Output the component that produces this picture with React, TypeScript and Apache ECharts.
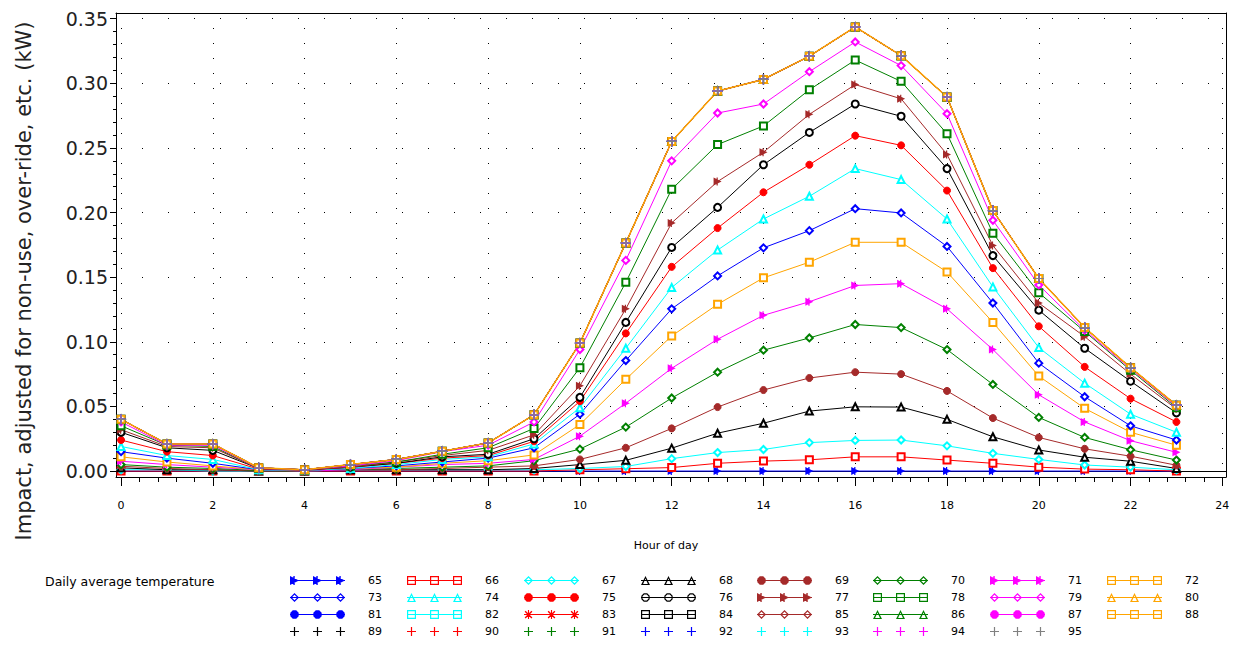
import React, { useEffect, useRef } from 'react';
import * as echarts from 'echarts';

// ---------------- data ----------------
const hours = [0, 1, 2, 3, 4, 5, 6, 7, 8, 9, 10, 11, 12, 13, 14, 15, 16, 17, 18, 19, 20, 21, 22, 23];

const t65 = [0, 0, 0, 0, 0, 0, 0, 0, 0, 0, 0, 0, 0, 0, 0, 0, 0, 0, 0, 0, 0, 0, 0, 0];
const t66 = [0, 0, 0, 0, 0, 0, 0, 0, 0, 0, 0.001, 0.0018, 0.0027, 0.006, 0.0077, 0.0087, 0.011, 0.011, 0.0085, 0.006, 0.003, 0.0015, 0.001, 0];
const t67 = [0.001, 0.001, 0, 0, 0, 0.001, 0.001, 0.001, 0.001, 0.001, 0.002, 0.0035, 0.0096, 0.0143, 0.0167, 0.022, 0.0237, 0.024, 0.0195, 0.0137, 0.009, 0.0047, 0.003, 0.001];
const t68 = [0.0025, 0.001, 0.001, 0, 0, 0.001, 0.001, 0.001, 0.001, 0.002, 0.005, 0.0083, 0.0177, 0.0293, 0.037, 0.0464, 0.0497, 0.0495, 0.04, 0.0265, 0.0163, 0.0107, 0.0076, 0.002];
const t69 = [0.0037, 0.002, 0.001, 0, 0, 0.001, 0.001, 0.002, 0.003, 0.004, 0.009, 0.018, 0.033, 0.0495, 0.0627, 0.072, 0.0765, 0.075, 0.062, 0.041, 0.026, 0.0172, 0.0115, 0.0045];
const t70 = [0.005, 0.003, 0.002, 0.0005, 0, 0.001, 0.002, 0.003, 0.004, 0.008, 0.017, 0.034, 0.0565, 0.0765, 0.0935, 0.103, 0.1134, 0.111, 0.094, 0.067, 0.0415, 0.026, 0.0165, 0.0085];
const t71 = [0.0076, 0.005, 0.003, 0.001, 0, 0.001, 0.003, 0.005, 0.006, 0.009, 0.027, 0.0525, 0.0795, 0.102, 0.1205, 0.131, 0.1436, 0.145, 0.1255, 0.094, 0.059, 0.038, 0.0235, 0.0145];
const t72 = [0.011, 0.007, 0.004, 0.001, 0.0005, 0.002, 0.003, 0.006, 0.008, 0.0125, 0.036, 0.071, 0.1045, 0.129, 0.1495, 0.1616, 0.177, 0.177, 0.154, 0.115, 0.0735, 0.0485, 0.03, 0.02];
const t73 = [0.015, 0.01, 0.006, 0.001, 0.0005, 0.002, 0.004, 0.007, 0.01, 0.018, 0.044, 0.0855, 0.1255, 0.151, 0.1727, 0.186, 0.203, 0.1997, 0.1738, 0.13, 0.0835, 0.0575, 0.035, 0.024];
const t74 = [0.019, 0.012, 0.009, 0.001, 0.0005, 0.002, 0.005, 0.009, 0.011, 0.021, 0.049, 0.095, 0.142, 0.171, 0.195, 0.2126, 0.234, 0.2255, 0.195, 0.1425, 0.0955, 0.068, 0.044, 0.03];
const t75 = [0.024, 0.015, 0.012, 0.0015, 0.0005, 0.003, 0.006, 0.01, 0.012, 0.023, 0.054, 0.1065, 0.158, 0.188, 0.2157, 0.237, 0.2595, 0.252, 0.217, 0.157, 0.112, 0.0806, 0.056, 0.038];
const t76 = [0.03, 0.018, 0.016, 0.002, 0.001, 0.003, 0.006, 0.011, 0.013, 0.025, 0.057, 0.115, 0.173, 0.204, 0.237, 0.262, 0.284, 0.2745, 0.234, 0.1667, 0.1245, 0.095, 0.0695, 0.045];
const t77 = [0.032, 0.019, 0.018, 0.002, 0.001, 0.003, 0.007, 0.012, 0.016, 0.028, 0.066, 0.1255, 0.192, 0.224, 0.2467, 0.276, 0.299, 0.288, 0.245, 0.1745, 0.13, 0.104, 0.075, 0.048];
const t78 = [0.035, 0.02, 0.019, 0.002, 0.001, 0.004, 0.007, 0.013, 0.018, 0.033, 0.08, 0.146, 0.218, 0.2526, 0.267, 0.295, 0.318, 0.3015, 0.261, 0.184, 0.138, 0.108, 0.078, 0.049];
const t79 = [0.038, 0.02, 0.02, 0.002, 0.001, 0.004, 0.008, 0.015, 0.02, 0.038, 0.094, 0.163, 0.24, 0.277, 0.284, 0.309, 0.332, 0.3137, 0.2765, 0.194, 0.144, 0.109, 0.079, 0.05];
const t80 = [0.04, 0.021, 0.021, 0.0025, 0.001, 0.005, 0.009, 0.0153, 0.0218, 0.0435, 0.099, 0.1765, 0.255, 0.294, 0.303, 0.321, 0.3436, 0.3214, 0.2894, 0.2015, 0.149, 0.111, 0.08, 0.051];
// temperatures 81..95 lie on the top curve (drawn over it)
const topCurveTemps = [81, 82, 83, 84, 85, 86, 87, 88, 89, 90, 91, 92, 93, 94, 95];

const temps = [65, 66, 67, 68, 69, 70, 71, 72, 73, 74, 75, 76, 77, 78, 79, 80, 81, 82, 83, 84, 85, 86, 87, 88, 89, 90, 91, 92, 93, 94, 95];

const xTickLabels = [0, 2, 4, 6, 8, 10, 12, 14, 16, 18, 20, 22, 24];
const yTickLabels = [0, 0.05, 0.1, 0.15, 0.2, 0.25, 0.3, 0.35];

const legendTitle = 'Daily average temperature';
const xName = 'Hour of day';
const yName = 'Impact, adjusted for non-use, over-ride, etc. (kW)';

// ---------------- styles ----------------
const BLUE = '#0000ff', RED = '#ff0000', CYAN = '#00ffff', BLACK = '#000000';
const BROWN = '#a52a2a', GREEN = '#008000', MAGENTA = '#ff00ff', ORANGE = '#ffa500', GRAY = '#808080';

const seriesStyles: Record<number, [string, string]> = {
  65: [BLUE, 'arrow'], 66: [RED, 'rectO'], 67: [CYAN, 'diamondO'], 68: [BLACK, 'triO'],
  69: [BROWN, 'circle'], 70: [GREEN, 'diamondO'], 71: [MAGENTA, 'arrow'], 72: [ORANGE, 'rectO'],
  73: [BLUE, 'diamondO'], 74: [CYAN, 'triO'], 75: [RED, 'circle'], 76: [BLACK, 'circleO'],
  77: [BROWN, 'arrow'], 78: [GREEN, 'rectO'], 79: [MAGENTA, 'diamondO'], 80: [ORANGE, 'triO'],
  81: [BLUE, 'circle'], 82: [CYAN, 'rectO'], 83: [RED, 'star'], 84: [BLACK, 'rectO'],
  85: [BROWN, 'diamondO'], 86: [GREEN, 'triO'], 87: [MAGENTA, 'circle'], 88: [ORANGE, 'rectO'],
  89: [BLACK, 'plus'], 90: [RED, 'plus'], 91: [GREEN, 'plus'], 92: [BLUE, 'plus'],
  93: [CYAN, 'plus'], 94: [MAGENTA, 'plus'], 95: [GRAY, 'plus'],
};

const X_MIN = -0.11, X_MAX = 24.08;
const Y_MIN = -0.0046, Y_MAX = 0.3544;

function valuesFor(t: number): number[] {
  const map: Record<number, number[]> = {
    65: t65, 66: t66, 67: t67, 68: t68, 69: t69, 70: t70, 71: t71, 72: t72,
    73: t73, 74: t74, 75: t75, 76: t76, 77: t77, 78: t78, 79: t79, 80: t80,
  };
  if (topCurveTemps.indexOf(t) >= 0) return t80;
  return map[t];
}

const f = (n: number) => (Math.round(n * 100) / 100).toString();

function markerPath(kind: string, cx: number, cy: number, r: number): string {
  const P = (pts: number[][]) => 'M' + pts.map((p) => f(p[0]) + ',' + f(p[1])).join('L') + 'Z';
  const oct = (rr: number, rev: boolean) => {
    const pts: number[][] = [];
    for (let k = 0; k < 8; k++) {
      const a = ((-90 + 22.5 + 45 * k) * Math.PI) / 180;
      pts.push([cx + rr * Math.cos(a), cy + rr * Math.sin(a)]);
    }
    if (rev) pts.reverse();
    return P(pts);
  };
  const plus = (w: number) =>
    P([[cx - w, cy - r], [cx + w, cy - r], [cx + w, cy - w], [cx + r, cy - w], [cx + r, cy + w], [cx + w, cy + w],
      [cx + w, cy + r], [cx - w, cy + r], [cx - w, cy + w], [cx - r, cy + w], [cx - r, cy - w], [cx - w, cy - w]]);
  switch (kind) {
    case 'arrow':
      return P([[cx - r, cy - r], [cx + r, cy], [cx - r, cy + r]]) + P([[cx - r * 0.25, cy - r], [cx + r * 0.05, cy - r], [cx + r * 0.05, cy + r], [cx - r * 0.25, cy + r]]);
    case 'rect':
      return P([[cx - r, cy - r], [cx + r, cy - r], [cx + r, cy + r], [cx - r, cy + r]]);
    case 'rectO': {
      const t = 1.2;
      return P([[cx - r, cy - r], [cx + r, cy - r], [cx + r, cy + r], [cx - r, cy + r]]) +
        P([[cx - r + t, cy - r + t], [cx - r + t, cy + r - t], [cx + r - t, cy + r - t], [cx + r - t, cy - r + t]]);
    }
    case 'diamondO': {
      const d = 1.7;
      return P([[cx, cy - r], [cx + r, cy], [cx, cy + r], [cx - r, cy]]) +
        P([[cx, cy - r + d], [cx - r + d, cy], [cx, cy + r - d], [cx + r - d, cy]]);
    }
    case 'triO':
      return P([[cx, cy - r], [cx + r, cy + r], [cx - r, cy + r]]) +
        P([[cx, cy - r + 2.6], [cx - r + 2.1, cy + r - 1.1], [cx + r - 2.1, cy + r - 1.1]]);
    case 'circle':
      return oct(r, false);
    case 'circleO':
      return oct(r, false) + oct(r - 1.3, true);
    case 'star': {
      const a = r * 0.75, h = 0.5;
      return plus(0.55) +
        P([[cx - a + h, cy - a - h], [cx + a + h, cy + a - h], [cx + a - h, cy + a + h], [cx - a - h, cy - a + h]]) +
        P([[cx + a + h, cy - a + h], [cx - a + h, cy + a + h], [cx - a - h, cy + a - h], [cx + a - h, cy - a - h]]);
    }
    case 'plus':
    default:
      return plus(0.6);
  }
}

const IW = 55, IH = 9;
function legendIcon(kind: string): string {
  const cy = IH / 2, r = IH / 2;
  let d = kind === 'plus' ? '' : 'M0,' + f(cy - 0.5) + 'L' + IW + ',' + f(cy - 0.5) + 'L' + IW + ',' + f(cy + 0.5) + 'L0,' + f(cy + 0.5) + 'Z';
  [r, IW / 2, IW - r].forEach((cx) => { d += markerPath(kind, cx, cy, r); });
  return 'path://' + d;
}

function plotSymbol(kind: string): string {
  switch (kind) {
    case 'rectO': return 'emptyRect';
    case 'diamondO': return 'emptyDiamond';
    case 'triO': return 'emptyTriangle';
    case 'circle': return 'circle';
    case 'circleO': return 'emptyCircle';
    case 'rect': return 'rect';
    default: return 'path://' + markerPath(kind, 5, 5, 5);
  }
}

const legendColumnLefts = [290, 407, 524, 641, 757, 873, 990, 1107];

export default function App() {
  const ref = useRef<HTMLDivElement>(null);
  useEffect(() => {
    if (!ref.current) return;
    const chart = echarts.init(ref.current, undefined, { renderer: 'svg' });

    const xMinor: number[] = [];
    for (let i = 1; i < 60; i++) if (i % 5 !== 0) xMinor.push(Math.round(i * 4) / 10);
    const yMinor: number[] = [];
    for (let i = 1; i < 35; i++) if (i % 5 !== 0) yMinor.push(i / 100);

    const axisLineStyle = { color: '#000', width: 1 };

    const series: any[] = temps.map((t) => {
      const [color, kind] = seriesStyles[t];
      const vals = valuesFor(t);
      return {
        type: 'line',
        name: String(t),
        xAxisIndex: 0,
        yAxisIndex: 0,
        data: hours.map((h, i) => [h, vals[i]]),
        symbol: plotSymbol(kind),
        symbolSize: kind === 'plus' ? 10 : kind === 'arrow' || kind === 'star' ? 8 : 7,
        showAllSymbol: true,
        z: 3,
        lineStyle: { color, width: t === 88 ? 1.5 : 1, opacity: kind === 'plus' ? 0 : 1 },
        itemStyle: { color, borderColor: color, borderWidth: kind === 'plus' || kind === 'arrow' || kind === 'star' ? 0 : 1 },
        emphasis: { disabled: true },
      };
    });
    series.unshift({
      type: 'line',
      name: 'zero',
      data: [],
      z: 1,
      xAxisIndex: 0,
      yAxisIndex: 0,
      markLine: {
        silent: true,
        z: 1,
        symbol: ['none', 'none'],
        label: { show: false },
        lineStyle: { color: '#000', type: 'solid', width: 1 },
        data: [{ yAxis: 0 }],
      },
    });

    const legends = legendColumnLefts.map((left, c) => ({
      orient: 'vertical',
      left,
      top: 574,
      itemWidth: IW,
      itemHeight: IH,
      itemGap: 4,
      padding: 0,
      selectedMode: false,
      textStyle: { fontSize: 11, fontFamily: 'DejaVu Sans', color: '#000', lineHeight: 13, padding: [0, 0, 0, 18] },
      itemStyle: { borderWidth: 0 },
      data: temps
        .filter((t) => (t - 65) % 8 === c)
        .map((t) => ({
          name: String(t),
          icon: legendIcon(seriesStyles[t][1]),
          itemStyle: { color: seriesStyles[t][0], borderWidth: 0, opacity: 1 },
        })),
    }));

    const option: any = {
      animation: false,
      backgroundColor: '#ffffff',
      grid: { left: 116, right: 7, top: 13, bottom: 169, containLabel: false },
      xAxis: [
        {
          type: 'value', position: 'bottom', min: X_MIN, max: X_MAX, splitNumber: 12,
          axisLine: { show: true, onZero: false, lineStyle: axisLineStyle },
          axisTick: { show: true, customValues: xTickLabels, length: 9, lineStyle: axisLineStyle },
          axisLabel: {
            show: true, customValues: xTickLabels, fontSize: 11, fontFamily: 'DejaVu Sans', color: '#000', margin: 23,
            formatter: (v: number) => String(v),
          },
          splitLine: { show: true, lineStyle: { color: '#000', type: [1, 14], width: 1 } },
        },
        {
          type: 'value', position: 'bottom', min: X_MIN, max: X_MAX,
          axisLine: { show: false, onZero: false },
          axisTick: { show: true, customValues: xMinor, length: 5, lineStyle: axisLineStyle },
          axisLabel: { show: false },
          splitLine: { show: false },
        },
        {
          type: 'value', position: 'top', min: X_MIN, max: X_MAX,
          axisLine: { show: true, onZero: false, lineStyle: axisLineStyle },
          axisTick: { show: false },
          axisLabel: { show: false },
          splitLine: { show: false },
        },
      ],
      yAxis: [
        {
          type: 'value', position: 'left', min: Y_MIN, max: Y_MAX, splitNumber: 7,
          axisLine: { show: true, onZero: false, lineStyle: axisLineStyle },
          axisTick: { show: true, customValues: yTickLabels, length: 6, lineStyle: axisLineStyle },
          axisLabel: {
            show: true, customValues: yTickLabels, fontSize: 19, fontFamily: 'DejaVu Sans', color: '#222', margin: 8,
            formatter: (v: number) => v.toFixed(2),
          },
          splitLine: { show: true, lineStyle: { color: '#000', type: [1, 25], width: 1 } },
        },
        {
          type: 'value', position: 'left', min: Y_MIN, max: Y_MAX,
          axisLine: { show: false, onZero: false },
          axisTick: { show: true, customValues: yMinor, length: 3, lineStyle: axisLineStyle },
          axisLabel: { show: false },
          splitLine: { show: false },
        },
        {
          type: 'value', position: 'right', min: Y_MIN, max: Y_MAX,
          axisLine: { show: true, onZero: false, lineStyle: axisLineStyle },
          axisTick: { show: false },
          axisLabel: { show: false },
          splitLine: { show: false },
        },
      ],
      legend: legends,
      graphic: [
        {
          type: 'text', x: 24, y: 281, rotation: Math.PI / 2, silent: true,
          style: {
            text: yName, font: '21px "DejaVu Sans"', fill: '#222',
            align: 'center', verticalAlign: 'middle', textAlign: 'center', textVerticalAlign: 'middle',
          },
        },
        {
          type: 'text', x: 666, y: 545, silent: true,
          style: {
            text: xName, font: '11px "DejaVu Sans"', fill: '#000',
            align: 'center', verticalAlign: 'middle', textAlign: 'center', textVerticalAlign: 'middle',
          },
        },
        {
          type: 'text', x: 45, y: 581, silent: true,
          style: {
            text: legendTitle, font: '12.5px "DejaVu Sans"', fill: '#000',
            align: 'left', verticalAlign: 'middle', textAlign: 'left', textVerticalAlign: 'middle',
          },
        },
      ],
      series,
    };
    chart.setOption(option);
    return () => chart.dispose();
  }, []);

  return (
    <div
      ref={ref}
      style={{ position: 'fixed', left: 0, top: 0, width: 1233, height: 646, background: '#fff' }}
    />
  );
}
